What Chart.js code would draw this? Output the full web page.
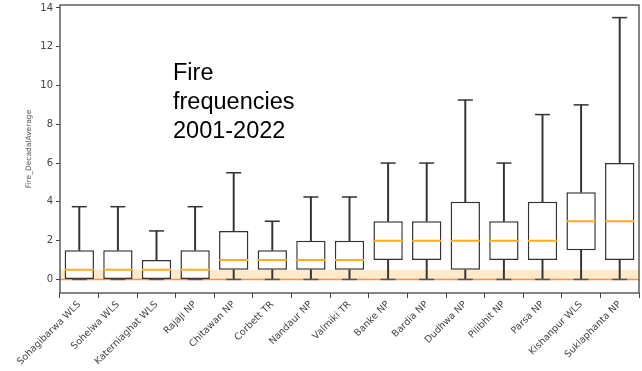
<!DOCTYPE html>
<html>
<head>
<meta charset="utf-8">
<script src="https://cdn.jsdelivr.net/npm/chart.js@4/dist/chart.umd.min.js"></script>
<style>
  html, body { margin: 0; padding: 0; background: #fff; overflow: hidden; }
  #wrap { width: 642px; height: 375px; margin-top: -4px; }
</style>
</head>
<body>
<div id="wrap"><canvas id="fire-box"></canvas></div>
<script>
// protected areas, sorted by median
const parks = ['Sohagibarwa WLS', 'Sohelwa WLS', 'Katerniaghat WLS', 'Rajaji NP', 'Chitawan NP',
    'Corbett TR', 'Nandaur NP', 'Valmiki TR', 'Banke NP', 'Bardia NP', 'Dudhwa NP',
    'Pilibhit NP', 'Parsa NP', 'Kishanpur WLS', 'Suklaphanta NP'];
// five number summary of Fire_DecadalAverage
const whiskerLow = [0, 0, 0, 0, 0, 0, 0, 0, 0, 0, 0, 0, 0, 0, 0];
const q1 = [0, 0, 0, 0, 0.5, 0.5, 0.5, 0.5, 1, 1, 0.5, 1, 1, 1.5, 1];
const median = [0.5, 0.5, 0.5, 0.5, 1, 1, 1, 1, 2, 2, 2, 2, 2, 3, 3];
const q3 = [1.5, 1.5, 1, 1.5, 2.5, 1.5, 2, 2, 3, 3, 4, 3, 4, 4.5, 6];
const whiskerHigh = [3.75, 3.75, 2.5, 3.75, 5.5, 3, 4.25, 4.25, 6, 6, 9.25, 6, 8.5, 9, 13.5];
// shaded low-fire band
const bandLow = 0;
const bandHigh = 0.5;
const yTicks = [0, 2, 4, 6, 8, 10, 12, 14];
const noteLines = ['Fire', 'frequencies', '2001-2022'];

const ink = '#333333';
const medianColor = '#ffac1c';

// band behind the boxes + frame + text note
const extras = {
    id: 'extras',
    beforeDatasetsDraw(chart) {
        const { ctx, chartArea: a, scales: { y } } = chart;
        const top = y.getPixelForValue(bandHigh), bot = y.getPixelForValue(bandLow);
        ctx.save();
        ctx.fillStyle = 'rgba(253, 200, 120, 0.4)';
        ctx.fillRect(a.left, top, a.right - a.left, bot - top);
        ctx.strokeStyle = '#e8955a';
        ctx.lineWidth = 1.5;
        ctx.beginPath();
        ctx.moveTo(a.left, bot);
        ctx.lineTo(a.right, bot);
        ctx.stroke();
        ctx.restore();
    },
    afterDraw(chart) {
        const { ctx, chartArea: a } = chart;
        ctx.save();
        ctx.strokeStyle = '#444';
        ctx.lineWidth = 1.3;
        ctx.strokeRect(a.left, a.top, a.right - a.left, a.bottom - a.top);
        ctx.fillStyle = '#000';
        ctx.font = '23.5px "Liberation Sans", Arial, sans-serif';
        ctx.textBaseline = 'alphabetic';
        noteLines.forEach((t, i) => ctx.fillText(t, 173, 84 + i * 29));
        ctx.restore();
    }
};

const ctx = document.getElementById('fire-box');
const chart = new Chart(ctx, {
    type: 'bar',
    data: {
        labels: parks,
        datasets: [
            {   // lower whisker
                label: 'low',
                data: parks.map((p, i) => [whiskerLow[i], q1[i]]),
                backgroundColor: ink,
                barThickness: 1.3,
                grouped: false,
                order: 3
            },
            {   // upper whisker
                label: 'high',
                data: parks.map((p, i) => [q3[i], whiskerHigh[i]]),
                backgroundColor: ink,
                barThickness: 1.3,
                grouped: false,
                order: 3
            },
            {   // box q1..q3
                label: 'box',
                data: parks.map((p, i) => [q1[i], q3[i]]),
                backgroundColor: '#ffffff',
                borderColor: ink,
                borderWidth: 1.5,
                borderSkipped: false,
                barPercentage: 0.76,
                categoryPercentage: 1,
                grouped: false,
                order: 2
            },
            {   // caps
                type: 'line',
                label: 'capHigh',
                data: whiskerHigh,
                showLine: false,
                pointStyle: 'line',
                pointRadius: 7.5,
                pointBorderWidth: 1.5,
                borderColor: ink,
                order: 1
            },
            {
                type: 'line',
                label: 'capLow',
                data: whiskerLow,
                showLine: false,
                pointStyle: 'line',
                pointRadius: 7.5,
                pointBorderWidth: 1.5,
                borderColor: '#555',
                order: 1
            },
            {   // median
                type: 'line',
                label: 'median',
                data: median,
                showLine: false,
                pointStyle: 'line',
                pointRadius: 14.5,
                pointBorderWidth: 2,
                borderColor: medianColor,
                order: 0
            }
        ]
    },
    options: {
        responsive: true,
        maintainAspectRatio: false,
        animation: false,
        layout: { autoPadding: false, padding: { top: 0, right: 3, left: 0, bottom: 0 } },
        plugins: { legend: { display: false }, tooltip: { enabled: false } },
        scales: {
            x: {
                afterFit(axis) { axis.height = 78; },
                grid: { display: true, drawOnChartArea: false, tickLength: 5, color: '#444' },
                border: { display: false },
                ticks: {
                    maxRotation: 45, minRotation: 45, autoSkip: false,
                    color: '#444', padding: 1,
                    font: { family: 'DejaVu Sans', size: 9.5 }
                }
            },
            y: {
                min: -0.7,
                max: 14.15,
                afterFit(axis) { axis.width = 60; },
                afterBuildTicks(axis) { axis.ticks = yTicks.map(v => ({ value: v })); },
                grid: { display: true, drawOnChartArea: false, tickLength: 4, color: '#444' },
                border: { display: false },
                ticks: { color: '#444', padding: 3, font: { family: 'DejaVu Sans', size: 10 } },
                title: {
                    display: true, text: 'Fire_DecadalAverage', color: '#555',
                    padding: { top: 25, bottom: 0 },
                    font: { family: 'DejaVu Sans', size: 7.5 }
                }
            }
        }
    },
    plugins: [extras]
});
</script>
</body>
</html>
